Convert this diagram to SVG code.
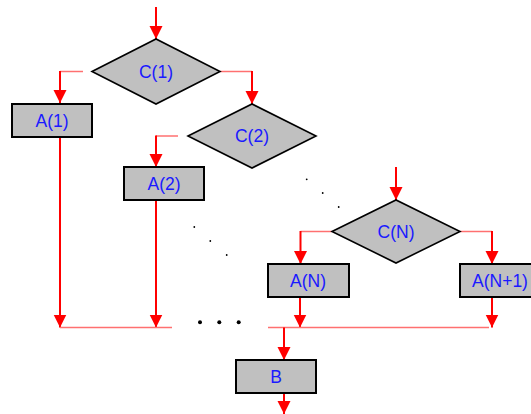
<svg xmlns="http://www.w3.org/2000/svg" width="531" height="414" viewBox="0 0 531 414">
<style>
.box{fill:#c0c0c0;stroke:#000;stroke-width:2}
.dia{fill:#c0c0c0;stroke:#000;stroke-width:1.6}
.lbl{font-family:"Liberation Sans",Arial,sans-serif;font-size:17.5px;fill:#1a1aff;text-anchor:middle}
.v{stroke:#ff0000;stroke-width:2;fill:none;marker-end:url(#ah)}
.h{stroke:#ff7070;stroke-width:1.5;fill:none}
</style>
<defs>
<marker id="ah" markerUnits="userSpaceOnUse" markerWidth="13" markerHeight="14" refX="13" refY="6.5" orient="auto" viewBox="0 0 13 13">
<path d="M0,0 L13,6.5 L0,13 Z" fill="#ff0000"/>
</marker>
</defs>
<rect width="531" height="414" fill="#fff"/>
<g id="connectors">
<line class="v" x1="156" y1="7" x2="156" y2="39"/>
<line class="h" x1="83" y1="71.5" x2="60" y2="71.5"/>
<line class="v" x1="60" y1="71" x2="60" y2="103"/>
<line class="h" x1="220" y1="71.5" x2="252" y2="71.5"/>
<line class="v" x1="252" y1="71" x2="252" y2="104"/>
<line class="h" x1="178" y1="136" x2="156" y2="136"/>
<line class="v" x1="156" y1="135.5" x2="156" y2="167"/>
<line class="v" x1="396" y1="167" x2="396" y2="200"/>
<line class="h" x1="332" y1="231.5" x2="300.5" y2="231.5"/>
<line class="v" x1="300.5" y1="231" x2="300.5" y2="264"/>
<line class="h" x1="460" y1="231.5" x2="492" y2="231.5"/>
<line class="v" x1="492" y1="231" x2="492" y2="264"/>
<line class="v" x1="60" y1="137" x2="60" y2="327.5"/>
<line class="v" x1="156" y1="200" x2="156" y2="327.5"/>
<line class="v" x1="300" y1="297" x2="300" y2="327.5"/>
<line class="v" x1="492" y1="297" x2="492" y2="327.5"/>
<line class="h" x1="60" y1="327.5" x2="172" y2="327.5"/>
<line class="h" x1="268" y1="327.5" x2="489" y2="327.5"/>
<line class="v" x1="284" y1="327.5" x2="284" y2="360"/>
<line class="v" x1="284" y1="393" x2="284" y2="414"/>
</g>
<g id="dots" fill="#000">
<circle cx="306.7" cy="179.3" r="0.9"/>
<circle cx="322.7" cy="193" r="0.9"/>
<circle cx="338.7" cy="207" r="0.9"/>
<circle cx="194.3" cy="227" r="0.9"/>
<circle cx="210.3" cy="241" r="0.9"/>
<circle cx="226.7" cy="255" r="0.9"/>
<circle cx="200" cy="322.3" r="2"/>
<circle cx="219.3" cy="322.3" r="2"/>
<circle cx="238.7" cy="322.3" r="2"/>
</g>
<g id="C1"><polygon class="dia" points="92,71.5 156,39 220,71.5 156,104"/><text class="lbl" x="156" y="77.7">C(1)</text></g>
<g id="C2"><polygon class="dia" points="188,136 252,104 316,136 252,168"/><text class="lbl" x="252" y="142.2">C(2)</text></g>
<g id="CN"><polygon class="dia" points="332,231.5 396,200 460,231.5 396,263"/><text class="lbl" x="396" y="237.7">C(N)</text></g>
<g id="A1"><rect class="box" x="12" y="104" width="80" height="33"/><text class="lbl" x="52" y="126.7">A(1)</text></g>
<g id="A2"><rect class="box" x="124" y="167" width="80" height="33"/><text class="lbl" x="164" y="189.7">A(2)</text></g>
<g id="AN"><rect class="box" x="268" y="264" width="81" height="33"/><text class="lbl" x="308" y="286.7">A(N)</text></g>
<g id="AN1"><rect class="box" x="460" y="264" width="80" height="33"/><text class="lbl" x="500" y="286.7">A(N+1)</text></g>
<g id="B"><rect class="box" x="236" y="360" width="80" height="33"/><text class="lbl" x="276" y="382.7">B</text></g>
</svg>
